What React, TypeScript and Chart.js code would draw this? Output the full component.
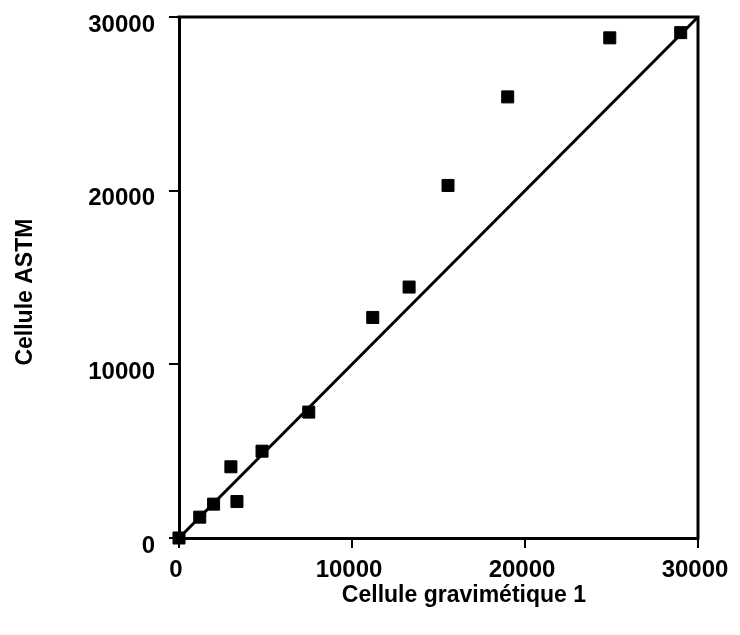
import React, { useEffect, useRef } from 'react';
import { Chart, registerables } from 'chart.js';

Chart.register(...registerables);

// Data
const gravimetric = [0, 1200, 2000, 3000, 3350, 4800, 7500, 11200, 13300, 15550, 19000, 24900, 29000];
const astm = [0, 1200, 1950, 4100, 2100, 5000, 7250, 12700, 14450, 20300, 25400, 28800, 29100];
const fitX = [0, 30000];
const fitY = [0, 30000];
const tickValues = [0, 10000, 20000, 30000];
const xTitle = 'Cellule gravimétique 1';
const yTitle = 'Cellule ASTM';

const FONT = '"Liberation Sans", Arial, Helvetica, sans-serif';

const frameAndTitles = {
  id: 'frameAndTitles',
  afterDraw(chart: any) {
    const { ctx, chartArea: a } = chart;
    ctx.save();
    ctx.strokeStyle = '#000';
    ctx.lineWidth = 3;
    ctx.lineCap = 'square';
    ctx.beginPath();
    ctx.moveTo(a.left, a.top);
    ctx.lineTo(a.right, a.top);
    ctx.lineTo(a.right, a.bottom);
    ctx.stroke();

    ctx.fillStyle = '#000';
    ctx.font = `bold 23px ${FONT}`;
    ctx.textAlign = 'center';
    ctx.textBaseline = 'middle';
    ctx.fillText(xTitle, a.left + (a.right - a.left) * 0.549, a.bottom + 58);

    ctx.translate(26, a.top + (a.bottom - a.top) * 0.528);
    ctx.rotate(-Math.PI / 2);
    ctx.fillText(yTitle, 0, 0);
    ctx.restore();
  },
};

export default function App() {
  const ref = useRef<HTMLCanvasElement | null>(null);

  useEffect(() => {
    if (!ref.current) return;
    const points = gravimetric.map((x, i) => ({ x, y: astm[i] }));
    const fit = fitX.map((x, i) => ({ x, y: fitY[i] }));
    const chart = new Chart(ref.current, {
      type: 'scatter',
      data: {
        datasets: [
          {
            label: 'Mesures',
            data: points,
            pointStyle: 'rect',
            pointRadius: 8.5,
            pointHoverRadius: 8.5,
            backgroundColor: '#000',
            borderColor: '#000',
            borderWidth: 1,
            showLine: false,
            clip: false,
          } as any,
          {
            label: 'Droite',
            data: fit,
            showLine: true,
            pointRadius: 0,
            borderColor: '#000',
            borderWidth: 3,
            backgroundColor: '#000',
            clip: false,
          } as any,
        ],
      },
      options: {
        responsive: false,
        animation: false,
        events: [],
        layout: { padding: { left: 0, top: 17, right: 42, bottom: 0 } },
        plugins: {
          legend: { display: false },
          tooltip: { enabled: false },
        },
        scales: {
          x: {
            type: 'linear',
            min: 0,
            max: 30000,
            afterFit: (s: any) => {
              s.height = 97;
              s.paddingLeft = 0;
              s.paddingRight = 0;
            },
            afterBuildTicks: (s: any) => {
              s.ticks = tickValues.map((v) => ({ value: v }));
            },
            grid: {
              drawOnChartArea: false,
              drawTicks: true,
              tickLength: 10,
              color: '#000',
              lineWidth: 2,
            },
            border: { display: true, color: '#000', width: 3 },
            ticks: {
              color: '#000',
              padding: 8,
              labelOffset: -3,
              maxRotation: 0,
              font: { family: FONT, size: 24, weight: 'bold' },
              callback: (v: any) => String(v),
            },
          },
          y: {
            type: 'linear',
            min: 0,
            max: 30000,
            afterFit: (s: any) => {
              s.width = 179;
              s.paddingTop = 0;
              s.paddingBottom = 0;
            },
            afterBuildTicks: (s: any) => {
              s.ticks = tickValues.map((v) => ({ value: v }));
            },
            grid: {
              drawOnChartArea: false,
              drawTicks: true,
              tickLength: 10,
              color: '#000',
              lineWidth: 2,
            },
            border: { display: true, color: '#000', width: 3 },
            ticks: {
              color: '#000',
              padding: 14,
              labelOffset: 8,
              font: { family: FONT, size: 24, weight: 'bold' },
              callback: (v: any) => String(v),
            },
          },
        },
      },
      plugins: [frameAndTitles],
    });
    return () => chart.destroy();
  }, []);

  return (
    <div style={{ position: 'absolute', left: 0, top: 0, width: 740, height: 635, background: '#fff' }}>
      <canvas ref={ref} width={740} height={635} style={{ display: 'block' }} />
    </div>
  );
}
